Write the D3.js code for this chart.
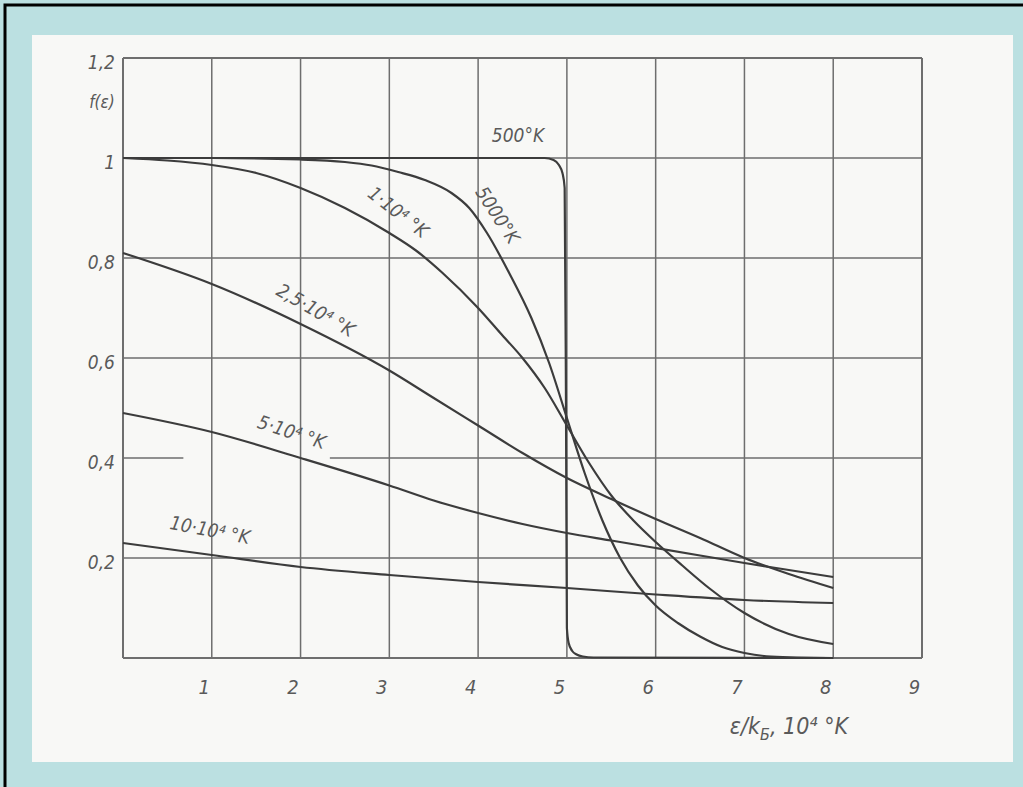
<!doctype html>
<html>
  <head>
    <meta charset="utf-8">
    <title>f(e) curves</title>
    <script src="https://d3js.org/d3.v7.min.js"></script>
    <style type="text/css">
      body { margin: 0; background-color: #bbe0e1; }
      text { font-family: 'Liberation Sans Narrow', 'DejaVu Sans Condensed', sans-serif; font-style: italic; fill: #5a5a5a; }
    </style>
  </head>
  <body>
    <script>
// ticks
var xTicks = [1, 2, 3, 4, 5, 6, 7, 8, 9];
var yTicks = [0.2, 0.4, 0.6, 0.8, 1, 1.2];
var yTickLabels = ["0,2", "0,4", "0,6", "0,8", "1", "1,2"];

// curves (x in 10^4 K, f)
var x500 = [0, 4.75, 4.85, 4.91, 4.95, 4.975, 4.99, 5.0, 5.02, 5.06, 5.11, 5.18, 5.3, 8];
var f500 = [1, 1, 0.996, 0.986, 0.97, 0.94, 0.5, 0.06, 0.03, 0.014, 0.007, 0.003, 0.001, 0];
var x5000 = [0, 1, 2, 2.5, 2.8, 3.1, 3.4, 3.7, 3.9, 4.1, 4.35, 4.6, 4.8, 5.0, 5.2, 5.4, 5.6, 5.8, 6.0, 6.25, 6.5, 6.75, 7.0, 7.3, 8];
var f5000 = [1, 1, 0.997, 0.992, 0.985, 0.972, 0.956, 0.93, 0.9, 0.85, 0.77, 0.68, 0.59, 0.48, 0.37, 0.275, 0.2, 0.145, 0.105, 0.07, 0.043, 0.022, 0.01, 0.003, 0];
var x1e4 = [0, 0.5, 1, 1.5, 2, 2.5, 3, 3.3, 3.6, 4, 4.25, 4.5, 4.75, 5, 5.25, 5.5, 5.75, 6, 6.3, 6.6, 7, 7.5, 8];
var f1e4 = [1, 0.995, 0.986, 0.97, 0.94, 0.9, 0.85, 0.815, 0.77, 0.7, 0.65, 0.6, 0.54, 0.465, 0.39, 0.325, 0.275, 0.232, 0.185, 0.14, 0.09, 0.048, 0.028];
var x25e4 = [0, 1, 2, 3, 3.5, 4, 4.5, 5, 5.5, 6, 6.5, 7, 7.5, 8];
var f25e4 = [0.81, 0.748, 0.668, 0.575, 0.52, 0.465, 0.41, 0.36, 0.318, 0.278, 0.24, 0.2, 0.168, 0.14];
var x5e4 = [0, 1, 2, 3, 3.5, 4, 4.5, 5, 5.5, 6, 6.5, 7, 7.5, 8];
var f5e4 = [0.49, 0.452, 0.4, 0.345, 0.315, 0.29, 0.268, 0.25, 0.235, 0.22, 0.205, 0.19, 0.176, 0.162];
var x10e4 = [0, 1, 2, 3, 4, 5, 6, 7, 8];
var f10e4 = [0.23, 0.206, 0.182, 0.166, 0.152, 0.14, 0.127, 0.116, 0.11];

// curve labels: text, x, f, angle
var labelText = ["500°K", "5000°K", "1·10⁴ °K", "2,5·10⁴ °K", "5·10⁴ °K", "10·10⁴ °K"];
var labelX = [4.45, 4.22, 3.1, 2.17, 1.9, 0.98];
var labelF = [1.045, 0.886, 0.892, 0.696, 0.452, 0.256];
var labelAngle = [0, 57, 38, 30, 18, 11];

var w = 1023, h = 787;

var svg = d3.select("body").append("svg")
  .attr("width", w)
  .attr("height", h);

// frame + paper
svg.append("rect").attr("x", 0).attr("y", 0).attr("width", w).attr("height", h).style("fill", "#bbe0e1");
svg.append("path").attr("d", "M5,787V5H1023").style("fill", "none").style("stroke", "#000").style("stroke-width", 3);
svg.append("rect").attr("x", 32).attr("y", 35).attr("width", 981).attr("height", 727).style("fill", "#f8f8f6");

var x = d3.scaleLinear().domain([0, 9]).range([123, 922]);
var y = d3.scaleLinear().domain([0, 1.2]).range([658, 58]);

var grid = svg.append("g");

// vertical grid lines 0..9
grid.selectAll("line.v")
  .data([0].concat(xTicks))
  .enter().append("line")
  .attr("class", "v")
  .attr("x1", function(d) { return x(d); })
  .attr("x2", function(d) { return x(d); })
  .attr("y1", y(0))
  .attr("y2", y(1.2))
  .style("stroke", "#6e6e6e")
  .style("stroke-width", function(d) { return d === 0 || d === 9 ? 2 : 1.5; });

// horizontal grid lines; the 0,4 line is broken on the scan
var hSegs = [[0, 0, 9], [0.2, 0, 9], [0.4, 0, 0.68], [0.4, 2.33, 9], [0.6, 0, 9], [0.8, 0, 9], [1, 0, 9], [1.2, 0, 9]];
grid.selectAll("line.h")
  .data(hSegs)
  .enter().append("line")
  .attr("class", "h")
  .attr("x1", function(d) { return x(d[1]); })
  .attr("x2", function(d) { return x(d[2]); })
  .attr("y1", function(d) { return y(d[0]); })
  .attr("y2", function(d) { return y(d[0]); })
  .style("stroke", "#6e6e6e")
  .style("stroke-width", function(d) { return d[0] === 0 || d[0] === 1.2 ? 2 : 1.5; });

// axes (labels only, grid is above)
var xAxis = svg.append("g")
  .attr("transform", "translate(-8," + y(0) + ")")
  .call(d3.axisBottom(x).tickValues(xTicks).tickSize(0).tickPadding(22));
xAxis.select(".domain").remove();
xAxis.selectAll("text").style("font-size", "20px").style("fill", "#5a5a5a").style("font-family", null);

var yAxis = svg.append("g")
  .attr("transform", "translate(" + (x(0) - 4) + ",4)")
  .call(d3.axisLeft(y).tickValues(yTicks).tickSize(0).tickPadding(4)
    .tickFormat(function(d, i) { return yTickLabels[i]; }));
yAxis.select(".domain").remove();
yAxis.selectAll("text").style("font-size", "19px").style("fill", "#5a5a5a").style("font-family", null);

// axis titles
svg.append("text")
  .attr("x", 102).attr("y", 108)
  .attr("text-anchor", "middle")
  .style("font-size", "17px")
  .text("f(ε)");

var xt = svg.append("text")
  .attr("x", 789).attr("y", 734)
  .attr("text-anchor", "middle")
  .style("font-size", "23px");
xt.append("tspan").text("ε/k");
xt.append("tspan").attr("dy", 6).style("font-size", "16px").text("Б");
xt.append("tspan").attr("dy", -6).text(", 10⁴ °K");

// curves
var line = d3.line()
  .x(function(d) { return x(d[0]); })
  .y(function(d) { return y(d[1]); })
  .curve(d3.curveMonotoneX);

var series = [[x500, f500], [x5000, f5000], [x1e4, f1e4], [x25e4, f25e4], [x5e4, f5e4], [x10e4, f10e4]];
svg.append("g").selectAll("path")
  .data(series)
  .enter().append("path")
  .attr("d", function(s) { return line(d3.zip(s[0], s[1])); })
  .style("fill", "none")
  .style("stroke", "#3c3c3c")
  .style("stroke-width", 2.2);

// curve labels
svg.append("g").selectAll("text")
  .data(labelText)
  .enter().append("text")
  .attr("transform", function(d, i) {
    return "translate(" + x(labelX[i]) + "," + y(labelF[i]) + ") rotate(" + labelAngle[i] + ")";
  })
  .attr("text-anchor", "middle")
  .attr("dy", "0.35em")
  .style("font-size", "19px")
  .text(function(d) { return d; });
    </script>
  </body>
</html>
